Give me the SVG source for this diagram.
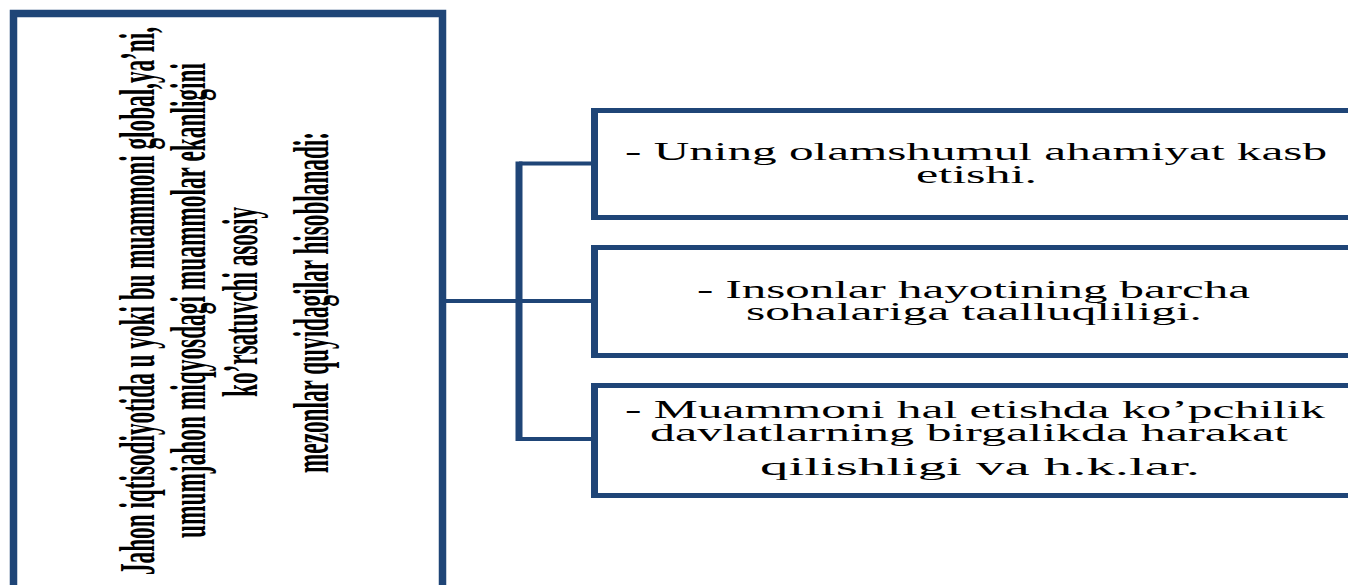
<svg xmlns="http://www.w3.org/2000/svg" width="1348" height="585" viewBox="0 0 1348 585">
<style>
.box{fill:#fff;stroke:#1F4577;stroke-width:5}
.main{fill:#fff;stroke:#1F4577;stroke-width:7.5}
.edge{stroke:#1F4577;stroke-width:7;fill:none}
.conn{stroke:#1F4577;stroke-width:4;fill:none}
.bar{stroke:#1F4577;stroke-width:7;fill:none}
.vt{font-family:"Liberation Serif","Times New Roman",serif;font-weight:bold;font-size:50px;fill:#000;text-anchor:middle}
.rt{font-family:"Liberation Serif","Times New Roman",serif;font-size:26px;fill:#000}
</style>
<rect width="1348" height="585" fill="#fff"/>
<g id="connectors">
<line class="conn" x1="446" y1="301" x2="519" y2="301"/>
<line class="bar" x1="519" y1="161.5" x2="519" y2="441"/>
<line class="conn" x1="519" y1="163.5" x2="592" y2="163.5"/>
<line class="conn" x1="519" y1="301" x2="592" y2="301"/>
<line class="conn" x1="519" y1="439" x2="592" y2="439"/>
</g>
<g id="main">
<rect class="main" x="13.5" y="13.5" width="429" height="620"/>
<g transform="translate(0,301) rotate(-90)">
<text class="vt" x="0" y="154" textLength="548" lengthAdjust="spacingAndGlyphs">Jahon iqtisodiyotida u yoki bu muammoni global,ya’ni,</text>
<text class="vt" x="0.5" y="205" textLength="475" lengthAdjust="spacingAndGlyphs">umumjahon miqyosdagi muammolar ekanligini</text>
<text class="vt" x="-1" y="257" textLength="190" lengthAdjust="spacingAndGlyphs">ko’rsatuvchi asosiy</text>
<text class="vt" x="-1.5" y="328" textLength="341" lengthAdjust="spacingAndGlyphs">mezonlar quyidagilar hisoblanadi:</text>
</g>
</g>
<g id="box1">
<rect class="box" x="594.5" y="110.5" width="800" height="107"/>
<line class="edge" x1="594.5" y1="108" x2="594.5" y2="220"/>
<text class="rt" x="625" y="160" textLength="702" lengthAdjust="spacingAndGlyphs">- Uning olamshumul ahamiyat kasb</text>
<text class="rt" x="916" y="183" textLength="121" lengthAdjust="spacingAndGlyphs">etishi.</text>
</g>
<g id="box2">
<rect class="box" x="594.5" y="247.5" width="800" height="108"/>
<line class="edge" x1="594.5" y1="245" x2="594.5" y2="358"/>
<text class="rt" x="697" y="298" textLength="553" lengthAdjust="spacingAndGlyphs">- Insonlar hayotining barcha</text>
<text class="rt" x="746" y="320" textLength="456" lengthAdjust="spacingAndGlyphs">sohalariga taalluqliligi.</text>
</g>
<g id="box3">
<rect class="box" x="594.5" y="385.5" width="800" height="110"/>
<line class="edge" x1="594.5" y1="383" x2="594.5" y2="498"/>
<text class="rt" x="625" y="418" textLength="700" lengthAdjust="spacingAndGlyphs">- Muammoni hal etishda ko’pchilik</text>
<text class="rt" x="650" y="441" textLength="638" lengthAdjust="spacingAndGlyphs">davlatlarning birgalikda harakat</text>
<text class="rt" x="760" y="475" textLength="440" lengthAdjust="spacingAndGlyphs">qilishligi va h.k.lar.</text>
</g>
</svg>
